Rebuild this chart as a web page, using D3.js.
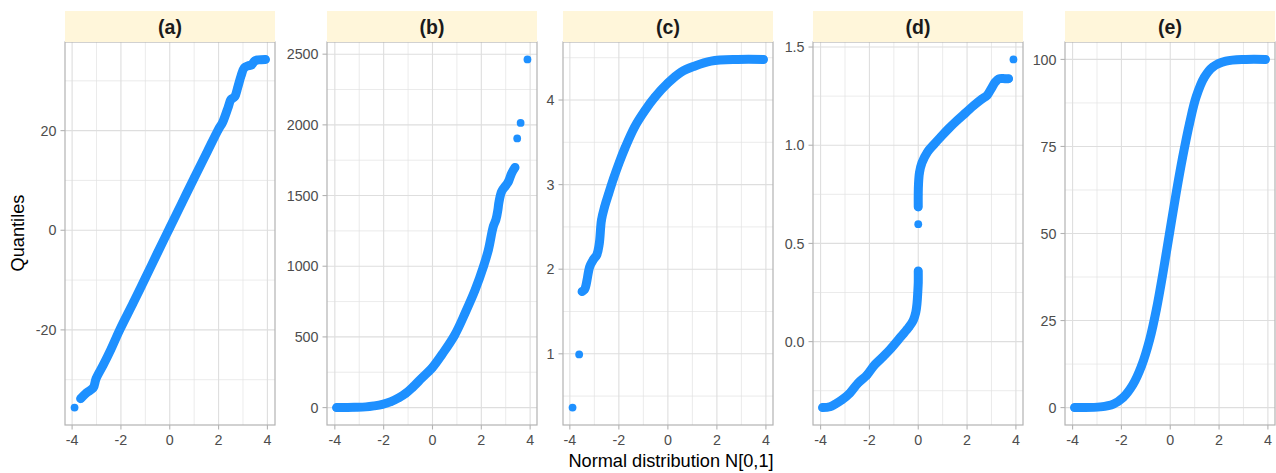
<!DOCTYPE html>
<html><head><meta charset="utf-8">
<script src="https://cdn.jsdelivr.net/npm/d3@7"></script>
<style>
body{margin:0;background:#fff}
text{font-family:"Liberation Sans",Arial,Helvetica,sans-serif}
</style>
</head><body>
<svg id="chart" width="1276" height="473"></svg>
<script>
// ---- data (theoretical normal quantile, sample quantile), grouped in runs of touching points ----
const panelLabels = ["(a)", "(b)", "(c)", "(d)", "(e)"];

const qqA = [
  [[-3.90, -35.6]],
  [[-3.65, -33.8], [-3.40, -32.6], [-3.13, -31.6], [-3.02, -29.8], [-2.72, -27.0], [-2.40, -23.8],
   [-2.05, -20.0], [-1.50, -14.6], [-1.00, -9.6], [-0.50, -4.5], [0.00, 0.5], [0.50, 5.5],
   [1.00, 10.5], [1.50, 15.4], [2.00, 20.3], [2.16, 21.6], [2.40, 24.8], [2.50, 26.2],
   [2.66, 26.8], [2.78, 28.6], [2.92, 31.0], [3.05, 32.6], [3.20, 33.0], [3.35, 33.2],
   [3.48, 34.0], [3.62, 34.2], [3.92, 34.3]]
];

const qqB = [
  [[-3.93, 0], [-3.67, 0], [-3.20, 2], [-2.73, 5], [-2.40, 12], [-2.05, 23], [-1.70, 42],
   [-1.37, 70], [-1.10, 100], [-0.83, 141], [-0.42, 212], [-0.01, 282], [0.39, 376],
   [0.90, 510], [1.34, 670], [1.75, 834], [2.09, 999], [2.29, 1116], [2.49, 1281],
   [2.60, 1330], [2.68, 1400], [2.72, 1450], [2.83, 1528], [3.00, 1570], [3.11, 1598],
   [3.24, 1657], [3.38, 1699]],
  [[3.47, 1904]],
  [[3.61, 2014]],
  [[3.89, 2463]]
];

const qqC = [
  [[-3.89, 0.364]],
  [[-3.62, 0.993]],
  [[-3.50, 1.735], [-3.40, 1.76], [-3.35, 1.80], [-3.30, 1.87], [-3.19, 2.03], [-3.05, 2.11],
   [-2.90, 2.17], [-2.80, 2.30], [-2.71, 2.58], [-2.58, 2.74], [-2.42, 2.89], [-2.22, 3.07],
   [-2.00, 3.25], [-1.74, 3.44], [-1.36, 3.68], [-0.95, 3.87], [-0.54, 4.03], [0.00, 4.20],
   [0.54, 4.33], [1.08, 4.40], [1.76, 4.46], [2.85, 4.48], [3.90, 4.48]]
];

const qqD = [
  [[-3.92, -0.336], [-3.62, -0.332], [-3.40, -0.318], [-3.13, -0.297], [-2.80, -0.262],
   [-2.47, -0.212], [-2.10, -0.170], [-1.79, -0.119], [-1.45, -0.078], [-1.11, -0.034],
   [-0.71, 0.025], [-0.37, 0.076], [-0.20, 0.110], [-0.10, 0.150], [-0.05, 0.195],
   [-0.02, 0.250], [0.00, 0.300], [0.00, 0.360]],
  [[0.00, 0.598]],
  [[0.00, 0.686], [0.00, 0.750], [0.01, 0.800], [0.05, 0.860], [0.15, 0.910], [0.38, 0.966],
   [0.65, 1.005], [0.92, 1.042], [1.25, 1.085], [1.60, 1.127], [1.95, 1.166], [2.28, 1.203],
   [2.60, 1.235], [2.82, 1.254], [3.00, 1.290], [3.16, 1.322], [3.30, 1.338], [3.55, 1.339],
   [3.70, 1.339]],
  [[3.90, 1.437]]
];

const qqE = [
  [[-3.92, 0], [-3.62, 0], [-2.87, 0.2], [-2.33, 1.0], [-1.93, 2.9], [-1.52, 6.7],
   [-1.18, 11.9], [-0.84, 19.6], [-0.57, 28.1], [-0.30, 38.6], [-0.03, 50.1], [0.24, 61.5],
   [0.51, 72.0], [0.79, 81.6], [1.06, 89.2], [1.40, 94.9], [1.74, 97.8], [2.28, 99.5],
   [3.09, 100], [3.90, 100]]
];

const xTicks = [-4, -2, 0, 2, 4];
const yTicksA = [-20, 0, 20];
const yTicksB = [0, 500, 1000, 1500, 2000, 2500];
const yTicksC = [1, 2, 3, 4];
const yTicksD = [0, 0.5, 1, 1.5];
const yTicksE = [0, 25, 50, 75, 100];

const xTitle = "Normal distribution N[0,1]";
const yTitle = "Quantiles";

// ---- layout ----
const panels = [
  {label: panelLabels[0], runs: qqA, ticks: yTicksA, fmt: v => String(v), left: 65},
  {label: panelLabels[1], runs: qqB, ticks: yTicksB, fmt: v => String(v), left: 327},
  {label: panelLabels[2], runs: qqC, ticks: yTicksC, fmt: v => String(v), left: 563},
  {label: panelLabels[3], runs: qqD, ticks: yTicksD, fmt: v => v.toFixed(1), left: 813},
  {label: panelLabels[4], runs: qqE, ticks: yTicksE, fmt: v => String(v), left: 1065}
];
const PW = 210, PT = 42, PB = 425, STRIP_TOP = 11;
const COL = "#1E90FF", R = 3.9, BAND = 9;

const svg = d3.select("#chart");

function expand(ext) {
  const d = (ext[1] - ext[0]) * 0.05;
  return [ext[0] - d, ext[1] + d];
}
function minors(major, dom) {
  const step = major[1] - major[0];
  const out = [];
  for (let i = -1; i < major.length; i++) {
    const v = (i < 0 ? major[0] - step : major[i]) + step / 2;
    if (v >= dom[0] && v <= dom[1]) out.push(v);
  }
  return out;
}

panels.forEach((p, i) => {
  const pts = p.runs.flat();
  const x = d3.scaleLinear().domain(expand(d3.extent(pts, d => d[0]))).range([p.left, p.left + PW]);
  const y = d3.scaleLinear().domain(expand(d3.extent(pts, d => d[1]))).range([PB, PT]);
  const g = svg.append("g");

  g.append("rect").attr("x", p.left).attr("y", PT).attr("width", PW).attr("height", PB - PT).attr("fill", "#fff");

  const xMin = minors(xTicks, x.domain());
  const yMin = minors(p.ticks, y.domain());
  // minor grid
  g.selectAll(null).data(xMin).join("line")
    .attr("x1", d => x(d)).attr("x2", d => x(d)).attr("y1", PT).attr("y2", PB)
    .attr("stroke", "#E3E3E3").attr("stroke-width", 0.7);
  g.selectAll(null).data(yMin).join("line")
    .attr("y1", d => y(d)).attr("y2", d => y(d)).attr("x1", p.left).attr("x2", p.left + PW)
    .attr("stroke", "#E3E3E3").attr("stroke-width", 0.7);
  // major grid
  g.selectAll(null).data(xTicks).join("line")
    .attr("x1", d => x(d)).attr("x2", d => x(d)).attr("y1", PT).attr("y2", PB)
    .attr("stroke", "#DEDEDE").attr("stroke-width", 1.1);
  g.selectAll(null).data(p.ticks).join("line")
    .attr("y1", d => y(d)).attr("y2", d => y(d)).attr("x1", p.left).attr("x2", p.left + PW)
    .attr("stroke", "#DEDEDE").attr("stroke-width", 1.1);

  // points: dense runs drawn as a band of overlapping dots
  const line = d3.line().x(d => x(d[0])).y(d => y(d[1])).curve(d3.curveCatmullRom.alpha(0.5));
  p.runs.filter(r => r.length > 1).forEach(r => {
    g.append("path").attr("d", line(r)).attr("fill", "none").attr("stroke", COL)
      .attr("stroke-width", BAND).attr("stroke-linecap", "round").attr("stroke-linejoin", "round");
  });
  g.selectAll(null).data(pts).join("circle")
    .attr("cx", d => x(d[0])).attr("cy", d => y(d[1])).attr("r", R).attr("fill", COL);

  // border
  g.append("rect").attr("x", p.left).attr("y", PT).attr("width", PW).attr("height", PB - PT)
    .attr("fill", "none").attr("stroke", "#B3B3B3").attr("stroke-width", 1.2);

  // strip
  g.append("rect").attr("x", p.left).attr("y", STRIP_TOP).attr("width", PW).attr("height", PT - STRIP_TOP)
    .attr("fill", "#FFF6DA");
  g.append("text").attr("x", p.left + PW / 2).attr("y", (STRIP_TOP + PT) / 2 + 7)
    .attr("text-anchor", "middle").attr("font-weight", "bold").attr("font-size", 19.5)
    .attr("fill", "#1A1A1A").text(p.label);

  // x axis ticks + labels
  g.selectAll(null).data(xTicks).join("line")
    .attr("x1", d => x(d)).attr("x2", d => x(d)).attr("y1", PB).attr("y2", PB + 4.5)
    .attr("stroke", "#B3B3B3").attr("stroke-width", 1.1);
  g.selectAll(null).data(xTicks).join("text")
    .attr("x", d => x(d)).attr("y", 445).attr("text-anchor", "middle")
    .attr("font-size", 14.3).attr("fill", "#4D4D4D").text(d => String(d));

  // y axis ticks + labels
  g.selectAll(null).data(p.ticks).join("line")
    .attr("x1", p.left - 4.5).attr("x2", p.left).attr("y1", d => y(d)).attr("y2", d => y(d))
    .attr("stroke", "#B3B3B3").attr("stroke-width", 1.1);
  g.selectAll(null).data(p.ticks).join("text")
    .attr("x", p.left - 8.5).attr("y", d => y(d) + 5.1).attr("text-anchor", "end")
    .attr("font-size", 14.3).attr("fill", "#4D4D4D").text(d => p.fmt(d));
});

// axis titles
svg.append("text").attr("x", 671).attr("y", 467).attr("text-anchor", "middle")
  .attr("font-size", 18.2).attr("fill", "#000").text(xTitle);
svg.append("text").attr("transform", "translate(24,233) rotate(-90)").attr("text-anchor", "middle")
  .attr("font-size", 18.2).attr("fill", "#000").text(yTitle);
</script>
</body></html>
